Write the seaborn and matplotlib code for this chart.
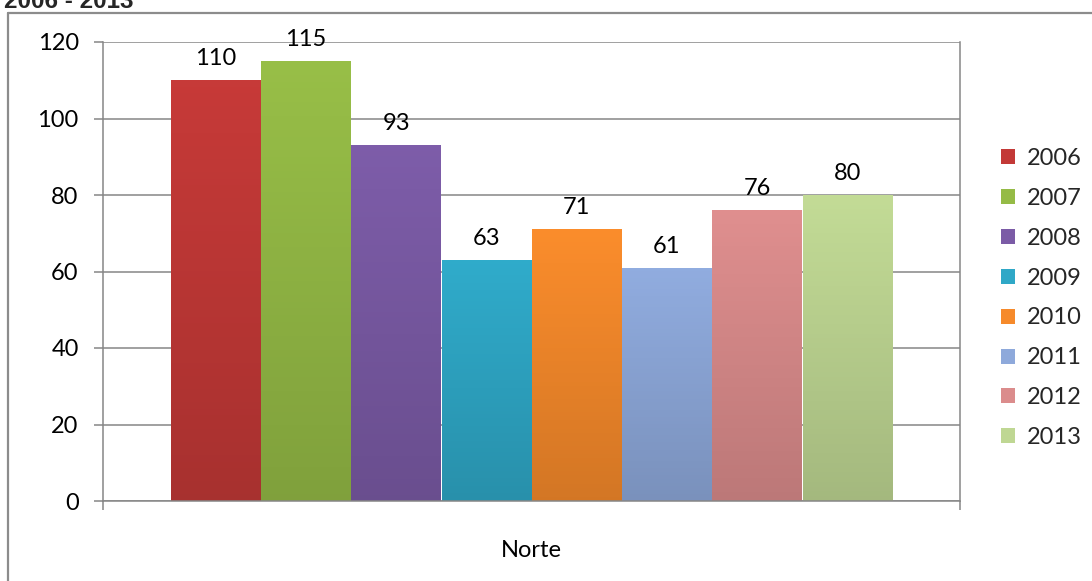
import numpy as np
import pandas as pd
import matplotlib
matplotlib.use("Agg")
import matplotlib.pyplot as plt
import matplotlib.colors as mcolors
from matplotlib.lines import Line2D
import seaborn as sns

# ---- data ----
region = "Norte"
years = ["2006", "2007", "2008", "2009", "2010", "2011", "2012", "2013"]
values = [110, 115, 93, 63, 71, 61, 76, 80]
colors = ["#C33937", "#95BB46", "#7B5BA6", "#2FA8C7",
          "#F68A2B", "#8EA9DB", "#DB8C8C", "#BFD793"]
yticks = [0, 20, 40, 60, 80, 100, 120]
title = "2006 - 2013"

df = pd.DataFrame({"region": [region] * len(years), "year": years, "value": values})

sns.set_theme(style="white")
plt.rcParams["font.family"] = ["Lato", "DejaVu Sans"]

W, H = 1092, 581
FS = 17
fig = plt.figure(figsize=(W / 100, H / 100), dpi=100)
ax = fig.add_axes([103 / W, 1 - 501 / H, (960 - 103) / W, (501 - 42) / H])

sns.barplot(data=df, x="region", y="value", hue="year", palette=colors,
            hue_order=years, width=0.8425, saturation=1, gap=0.01, ax=ax,
            edgecolor="none")

grid_c = "#868686"
ax.set_ylim(0, 120)
ax.set_xlim(-0.5, 0.5)
ax.set_yticks(yticks)
ax.yaxis.grid(True, color=grid_c, lw=1.1)
ax.set_axisbelow(True)
ax.set_xlabel("")
ax.set_ylabel("")

for s in ["left", "bottom", "right"]:
    ax.spines[s].set_visible(True)
    ax.spines[s].set_color(grid_c)
    ax.spines[s].set_linewidth(1.1)
ax.spines["top"].set_visible(False)

ax.tick_params(axis="y", which="major", left=True, length=6.5, width=1.1,
               color=grid_c, labelsize=FS, labelcolor="black", pad=11)
ax.set_xticks([0])
ax.set_xticklabels([region])
ax.set_xticks([-0.5, 0.5], minor=True)
ax.tick_params(axis="x", which="major", length=0, labelsize=FS,
               labelcolor="black", pad=28)
ax.tick_params(axis="x", which="minor", bottom=True, length=6.5, width=1.1,
               color=grid_c)

# gradient shading on bars
bars = [p for p in ax.patches if p.get_height() > 0]
for p, c in zip(bars, colors):
    x0, y0 = p.get_x(), p.get_y()
    w, h = p.get_width(), p.get_height()
    base = np.array(mcolors.to_rgb(c))
    t = np.linspace(0, 1, 64)[:, None]  # 0 top -> 1 bottom
    fac = 1.02 - 0.16 * t
    grad = np.clip(base[None, :] * fac, 0, 1)[:, None, :]
    im = ax.imshow(grad, extent=[x0, x0 + w, y0, y0 + h], aspect="auto",
                   origin="upper", zorder=p.get_zorder() + 0.1)
    im.set_clip_path(p)
ax.set_xlim(-0.5, 0.5)
ax.set_ylim(0, 120)

for cont in ax.containers:
    ax.bar_label(cont, fmt="%d", padding=8, fontsize=FS, color="black")

# legend
handles, labels = ax.get_legend_handles_labels()
if ax.get_legend() is not None:
    ax.get_legend().remove()
fig.legend(handles, labels, loc="center left",
           bbox_to_anchor=(1001 / W, 1 - 298 / H), frameon=False,
           fontsize=FS, handlelength=0.6, handleheight=0.6,
           handletextpad=0.5, labelspacing=0.8, borderpad=0, borderaxespad=0)

# chart outer border (cut at right and bottom)
fig.add_artist(Line2D([8 / W, 8 / W], [1 - 13 / H, 0], color="#8C8C8C", lw=1.6,
                      transform=fig.transFigure))
fig.add_artist(Line2D([8 / W, 1], [1 - 13 / H, 1 - 13 / H], color="#8C8C8C", lw=1.6,
                      transform=fig.transFigure))

# title mostly cut off at the top (as in the reference)
fig.text(4 / W, 1 - 8 / H, title, fontsize=17.5, fontweight="bold",
         family=["Liberation Sans", "DejaVu Sans"], va="baseline", ha="left")

fig.savefig("out.png", dpi=100)
